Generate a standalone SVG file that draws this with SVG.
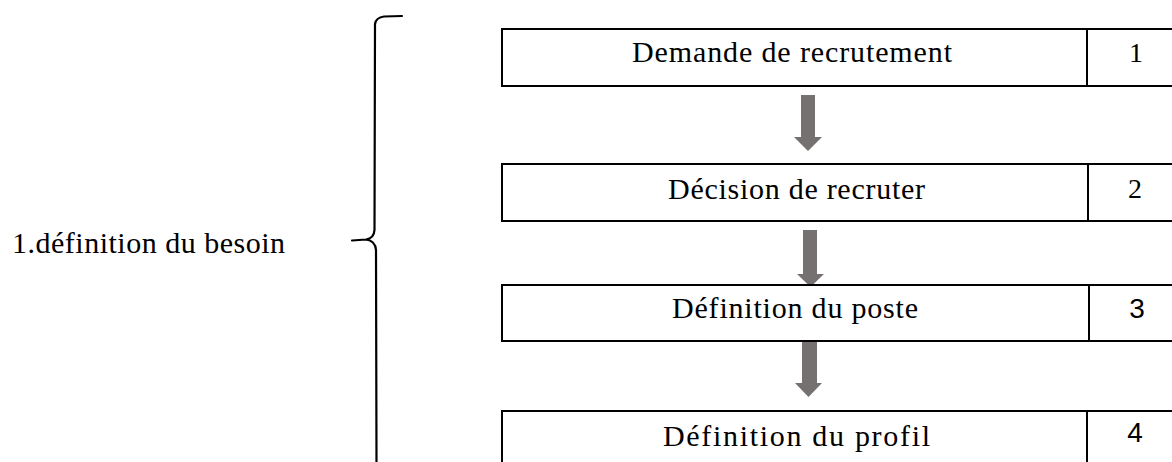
<svg xmlns="http://www.w3.org/2000/svg" width="1172" height="462" viewBox="0 0 1172 462">
<style>
.box{fill:#fff;stroke:#000;stroke-width:2}
.div{stroke:#000;stroke-width:2}
.t{font-family:"Liberation Serif","Times New Roman",serif;font-size:30px;fill:#000}
.n{font-family:"Liberation Serif","Times New Roman",serif;font-size:28px;fill:#000;text-anchor:middle}
.ns{font-family:"Liberation Sans",Arial,sans-serif;font-size:28px;fill:#000;text-anchor:middle}
.arr{fill:#767171}
.brace{fill:none;stroke:#000;stroke-width:2.2;stroke-linecap:round;stroke-linejoin:round}
</style>
<rect width="1172" height="462" fill="#fff"/>
<g id="label">
<text class="t" x="12" y="253" textLength="273" lengthAdjust="spacing">1.définition du besoin</text>
</g>
<g id="brace">
<path class="brace" d="M402,16 L384,16.5 Q376,17.5 375,24 L374.5,230 Q374,238.5 366,239.5 L352,240.5 M366,239.5 Q375.5,241 376,250 L376.5,462"/>
</g>
<g id="connectors">
<path class="arr" d="M801,95 L815,95 L815,137 L822,137 L808,151 L794,137 L801,137 Z"/>
<path class="arr" d="M803,230 L817,230 L817,274 L824,274 L810.5,287 L797,274 L803,274 Z"/>
<path class="arr" d="M802,340 L817,340 L817,383 L822,383 L808.5,397 L795,383 L802,383 Z"/>
</g>
<g id="node1">
<rect class="box" x="502" y="29" width="680" height="57"/>
<line class="div" x1="1087" y1="29" x2="1087" y2="86"/>
<text class="t" x="632" y="62" textLength="320" lengthAdjust="spacing">Demande de recrutement</text>
<text class="n" x="1136" y="62">1</text>
</g>
<g id="node2">
<rect class="box" x="502" y="164" width="680" height="57"/>
<line class="div" x1="1088" y1="164" x2="1088" y2="221"/>
<text class="t" x="668" y="199" textLength="257" lengthAdjust="spacing">Décision de recruter</text>
<text class="n" x="1135" y="198">2</text>
</g>
<g id="node3">
<rect class="box" x="502" y="285" width="680" height="56"/>
<line class="div" x1="1089" y1="285" x2="1089" y2="341"/>
<text class="t" x="672" y="318" textLength="246" lengthAdjust="spacing">Définition du poste</text>
<text class="ns" x="1137" y="318">3</text>
</g>
<g id="node4">
<rect class="box" x="502" y="411" width="680" height="70"/>
<line class="div" x1="1087" y1="411" x2="1087" y2="462"/>
<text class="t" x="663" y="446" textLength="267" lengthAdjust="spacing">Définition du profil</text>
<text class="ns" x="1135" y="442">4</text>
</g>
</svg>
